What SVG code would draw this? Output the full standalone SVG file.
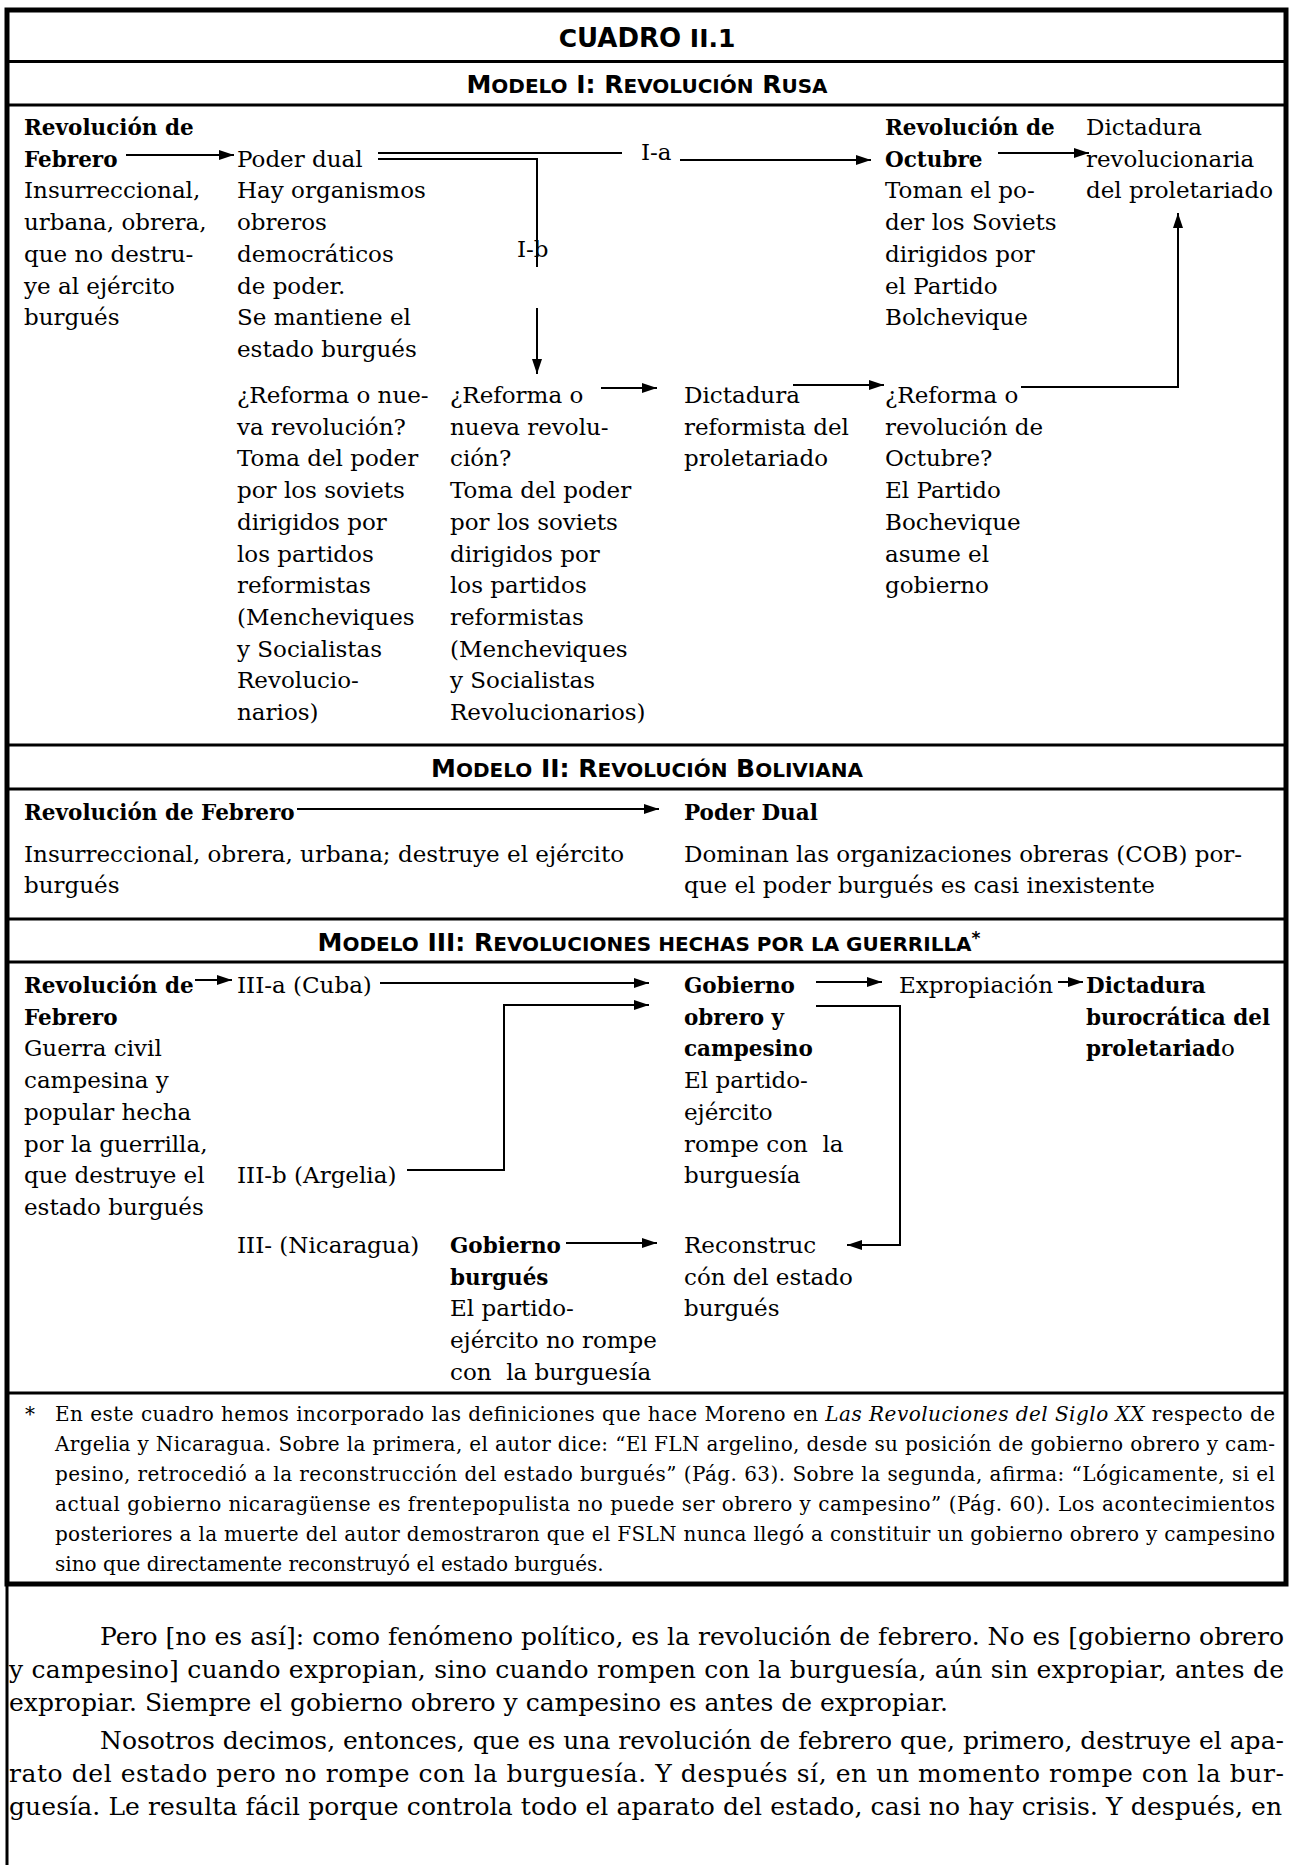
<svg xmlns="http://www.w3.org/2000/svg" width="1289" height="1865" viewBox="0 0 1289 1865">
<style>
.t{font-family:"DejaVu Serif","Liberation Serif",serif;font-size:23px;fill:#000}
.b{font-weight:bold;font-size:21.5px}
.hd{font-family:"DejaVu Sans","Open Sans",sans-serif;font-weight:bold;font-size:25px;fill:#000}
.sc{font-size:20px}
.fn{font-size:20px}
.p{font-size:25px}
.ln{stroke:#000;stroke-width:2;fill:none}
.ar{marker-end:url(#ah)}
.rule{stroke:#000;stroke-width:3}
.pre{white-space:pre}
</style>
<defs>
<marker id="ah" markerWidth="15" markerHeight="10" refX="15" refY="5" orient="auto" markerUnits="userSpaceOnUse"><path d="M0,0 L15,5 L0,10 z" fill="#000"/></marker>
</defs>
<rect width="1289" height="1865" fill="#fff"/>
<g id="frame">
<rect x="7" y="10" width="1279" height="1574" fill="none" stroke="#000" stroke-width="5"/>
<line x1="7" y1="1584" x2="7" y2="1865" stroke="#000" stroke-width="3"/>
<line class="rule" x1="7" y1="61.5" x2="1286" y2="61.5"/>
<line class="rule" x1="7" y1="105" x2="1286" y2="105"/>
<line class="rule" x1="7" y1="745" x2="1286" y2="745"/>
<line class="rule" x1="7" y1="789" x2="1286" y2="789"/>
<line class="rule" x1="7" y1="919" x2="1286" y2="919"/>
<line class="rule" x1="7" y1="962" x2="1286" y2="962"/>
<line class="rule" x1="7" y1="1393" x2="1286" y2="1393"/>
</g>
<g id="headers">
<text class="hd" x="647" y="47" text-anchor="middle" font-size="33">C<tspan font-size="26">UADRO</tspan> II.1</text>
<text class="hd" x="647" y="93" text-anchor="middle">M<tspan class="sc">ODELO</tspan> I: R<tspan class="sc">EVOLUCIÓN</tspan> R<tspan class="sc">USA</tspan></text>
<text class="hd" x="647" y="777" text-anchor="middle">M<tspan class="sc">ODELO</tspan> II: R<tspan class="sc">EVOLUCIÓN</tspan> B<tspan class="sc">OLIVIANA</tspan></text>
<text class="hd" x="649" y="951" text-anchor="middle">M<tspan class="sc">ODELO</tspan> III: R<tspan class="sc">EVOLUCIONES HECHAS POR LA GUERRILLA</tspan><tspan font-size="17" dy="-7">*</tspan></text>
</g>
<g id="m1-febrero">
<text class="t"><tspan class="b" x="24" y="135">Revolución de</tspan><tspan class="b" x="24" y="166.7">Febrero</tspan><tspan x="24" y="198.4">Insurreccional,</tspan><tspan x="24" y="230.1">urbana, obrera,</tspan><tspan x="24" y="261.8">que no destru-</tspan><tspan x="24" y="293.5">ye al ejército</tspan><tspan x="24" y="325.2">burgués</tspan></text>
</g>
<g id="m1-poder-dual">
<text class="t"><tspan x="237" y="166.7">Poder dual</tspan><tspan x="237" y="198.4">Hay organismos</tspan><tspan x="237" y="230.1">obreros</tspan><tspan x="237" y="261.8">democráticos</tspan><tspan x="237" y="293.5">de poder.</tspan><tspan x="237" y="325.2">Se mantiene el</tspan><tspan x="237" y="356.9">estado burgués</tspan></text>
</g>
<g id="m1-labels">
<text class="t" x="641" y="160">I-a</text>
<text class="t" x="517" y="257">I-b</text>
</g>
<g id="m1-reforma-1">
<text class="t"><tspan x="237" y="403">¿Reforma o nue-</tspan><tspan x="237" y="434.7">va revolución?</tspan><tspan x="237" y="466.4">Toma del poder</tspan><tspan x="237" y="498.1">por los soviets</tspan><tspan x="237" y="529.8">dirigidos por</tspan><tspan x="237" y="561.5">los partidos</tspan><tspan x="237" y="593.2">reformistas</tspan><tspan x="237" y="624.9">(Mencheviques</tspan><tspan x="237" y="656.6">y Socialistas</tspan><tspan x="237" y="688.3">Revolucio-</tspan><tspan x="237" y="720">narios)</tspan></text>
</g>
<g id="m1-reforma-2">
<text class="t"><tspan x="450" y="403">¿Reforma o</tspan><tspan x="450" y="434.7">nueva revolu-</tspan><tspan x="450" y="466.4">ción?</tspan><tspan x="450" y="498.1">Toma del poder</tspan><tspan x="450" y="529.8">por los soviets</tspan><tspan x="450" y="561.5">dirigidos por</tspan><tspan x="450" y="593.2">los partidos</tspan><tspan x="450" y="624.9">reformistas</tspan><tspan x="450" y="656.6">(Mencheviques</tspan><tspan x="450" y="688.3">y Socialistas</tspan><tspan x="450" y="720">Revolucionarios)</tspan></text>
</g>
<g id="m1-dictadura-reformista">
<text class="t"><tspan x="684" y="403">Dictadura</tspan><tspan x="684" y="434.7">reformista del</tspan><tspan x="684" y="466.4">proletariado</tspan></text>
</g>
<g id="m1-octubre">
<text class="t"><tspan class="b" x="885" y="135">Revolución de</tspan><tspan class="b" x="885" y="166.7">Octubre</tspan><tspan x="885" y="198.4">Toman el po-</tspan><tspan x="885" y="230.1">der los Soviets</tspan><tspan x="885" y="261.8">dirigidos por</tspan><tspan x="885" y="293.5">el Partido</tspan><tspan x="885" y="325.2">Bolchevique</tspan></text>
</g>
<g id="m1-reforma-octubre">
<text class="t"><tspan x="885" y="403">¿Reforma o</tspan><tspan x="885" y="434.7">revolución de</tspan><tspan x="885" y="466.4">Octubre?</tspan><tspan x="885" y="498.1">El Partido</tspan><tspan x="885" y="529.8">Bochevique</tspan><tspan x="885" y="561.5">asume el</tspan><tspan x="885" y="593.2">gobierno</tspan></text>
</g>
<g id="m1-dictadura-revolucionaria">
<text class="t"><tspan x="1086" y="135">Dictadura</tspan><tspan x="1086" y="166.7">revolucionaria</tspan><tspan x="1086" y="198.4">del proletariado</tspan></text>
</g>
<g id="m2-febrero">
<text class="t"><tspan class="b" x="24" y="820">Revolución de Febrero</tspan><tspan x="24" y="862">Insurreccional, obrera, urbana; destruye el ejército</tspan><tspan x="24" y="893">burgués</tspan></text>
</g>
<g id="m2-poder-dual">
<text class="t"><tspan class="b" x="684" y="820">Poder Dual</tspan><tspan x="684" y="862">Dominan las organizaciones obreras (COB) por-</tspan><tspan x="684" y="893">que el poder burgués es casi inexistente</tspan></text>
</g>
<g id="m3-febrero">
<text class="t"><tspan class="b" x="24" y="993">Revolución de</tspan><tspan class="b" x="24" y="1024.7">Febrero</tspan><tspan x="24" y="1056.4">Guerra civil</tspan><tspan x="24" y="1088.1">campesina y</tspan><tspan x="24" y="1119.8">popular hecha</tspan><tspan x="24" y="1151.5">por la guerrilla,</tspan><tspan x="24" y="1183.2">que destruye el</tspan><tspan x="24" y="1214.9">estado burgués</tspan></text>
</g>
<g id="m3-cuba"><text class="t" x="237" y="993">III-a (Cuba)</text></g>
<g id="m3-argelia"><text class="t" x="237" y="1183.2">III-b (Argelia)</text></g>
<g id="m3-nicaragua"><text class="t" x="237" y="1253">III- (Nicaragua)</text></g>
<g id="m3-gobierno-burgues">
<text class="t pre" xml:space="preserve"><tspan class="b" x="450" y="1253">Gobierno</tspan><tspan class="b" x="450" y="1284.7">burgués</tspan><tspan x="450" y="1316.4">El partido-</tspan><tspan x="450" y="1348.1">ejército no rompe</tspan><tspan x="450" y="1379.8">con  la burguesía</tspan></text>
</g>
<g id="m3-gobierno-obrero">
<text class="t pre" xml:space="preserve"><tspan class="b" x="684" y="993">Gobierno</tspan><tspan class="b" x="684" y="1024.7">obrero y</tspan><tspan class="b" x="684" y="1056.4">campesino</tspan><tspan x="684" y="1088.1">El partido-</tspan><tspan x="684" y="1119.8">ejército</tspan><tspan x="684" y="1151.5">rompe con  la</tspan><tspan x="684" y="1183.2">burguesía</tspan></text>
</g>
<g id="m3-reconstruccion">
<text class="t"><tspan x="684" y="1253">Reconstruc</tspan><tspan x="684" y="1284.7">cón del estado</tspan><tspan x="684" y="1316.4">burgués</tspan></text>
</g>
<g id="m3-expropiacion"><text class="t" x="899" y="993">Expropiación</text></g>
<g id="m3-dictadura-burocratica">
<text class="t"><tspan class="b" x="1086" y="993">Dictadura</tspan><tspan class="b" x="1086" y="1024.7">burocrática del</tspan><tspan x="1086" y="1056.4"><tspan class="b">proletariad</tspan>o</tspan></text>
</g>
<g id="connectors">
<line class="ln ar" x1="126" y1="155" x2="234" y2="155"/>
<line class="ln" x1="378" y1="153" x2="622" y2="153"/>
<polyline class="ln" points="378,159 537,159 537,267"/>
<line class="ln ar" x1="680" y1="160" x2="871" y2="160"/>
<line class="ln ar" x1="998" y1="153" x2="1089" y2="153"/>
<line class="ln ar" x1="537" y1="308" x2="537" y2="374"/>
<line class="ln ar" x1="601" y1="388" x2="657" y2="388"/>
<line class="ln ar" x1="793" y1="385" x2="884" y2="385"/>
<polyline class="ln ar" points="1021,387 1178,387 1178,213"/>
<line class="ln ar" x1="297" y1="809" x2="659" y2="809"/>
<line class="ln ar" x1="195" y1="980" x2="232" y2="980"/>
<line class="ln ar" x1="380" y1="983" x2="649" y2="983"/>
<polyline class="ln ar" points="407,1170 504,1170 504,1005 649,1005"/>
<line class="ln ar" x1="566" y1="1243" x2="657" y2="1243"/>
<line class="ln ar" x1="816" y1="982" x2="882" y2="982"/>
<line class="ln ar" x1="1058" y1="982" x2="1083" y2="982"/>
<polyline class="ln ar" points="816,1006 900,1006 900,1245 847,1245"/>
</g>
<g id="footnote">
<text class="t fn" x="25" y="1421">*</text>
<text class="t fn" x="55" y="1421" textLength="1220" lengthAdjust="spacing">En este cuadro hemos incorporado las definiciones que hace Moreno en <tspan font-style="italic">Las Revoluciones del Siglo XX</tspan> respecto de</text>
<text class="t fn" x="55" y="1451" textLength="1220" lengthAdjust="spacing">Argelia y Nicaragua. Sobre la primera, el autor dice: “El FLN argelino, desde su posición de gobierno obrero y cam-</text>
<text class="t fn" x="55" y="1481" textLength="1220" lengthAdjust="spacing">pesino, retrocedió a la reconstrucción del estado burgués” (Pág. 63). Sobre la segunda, afirma: “Lógicamente, si el</text>
<text class="t fn" x="55" y="1511" textLength="1220" lengthAdjust="spacing">actual gobierno nicaragüense es frentepopulista no puede ser obrero y campesino” (Pág. 60). Los acontecimientos</text>
<text class="t fn" x="55" y="1541" textLength="1220" lengthAdjust="spacing">posteriores a la muerte del autor demostraron que el FSLN nunca llegó a constituir un gobierno obrero y campesino</text>
<text class="t fn" x="55" y="1571">sino que directamente reconstruyó el estado burgués.</text>
</g>
<g id="body-text">
<text class="t p" x="100" y="1645" textLength="1184" lengthAdjust="spacing">Pero [no es así]: como fenómeno político, es la revolución de febrero. No es [gobierno obrero</text>
<text class="t p" x="9" y="1678" textLength="1275" lengthAdjust="spacing">y campesino] cuando expropian, sino cuando rompen con la burguesía, aún sin expropiar, antes de</text>
<text class="t p" x="9" y="1711">expropiar. Siempre el gobierno obrero y campesino es antes de expropiar.</text>
<text class="t p" x="100" y="1749" textLength="1184" lengthAdjust="spacing">Nosotros decimos, entonces, que es una revolución de febrero que, primero, destruye el apa-</text>
<text class="t p" x="9" y="1782" textLength="1275" lengthAdjust="spacing">rato del estado pero no rompe con la burguesía. Y después sí, en un momento rompe con la bur-</text>
<text class="t p" x="9" y="1815" textLength="1273" lengthAdjust="spacing">guesía. Le resulta fácil porque controla todo el aparato del estado, casi no hay crisis. Y después, en</text>
</g>
</svg>
